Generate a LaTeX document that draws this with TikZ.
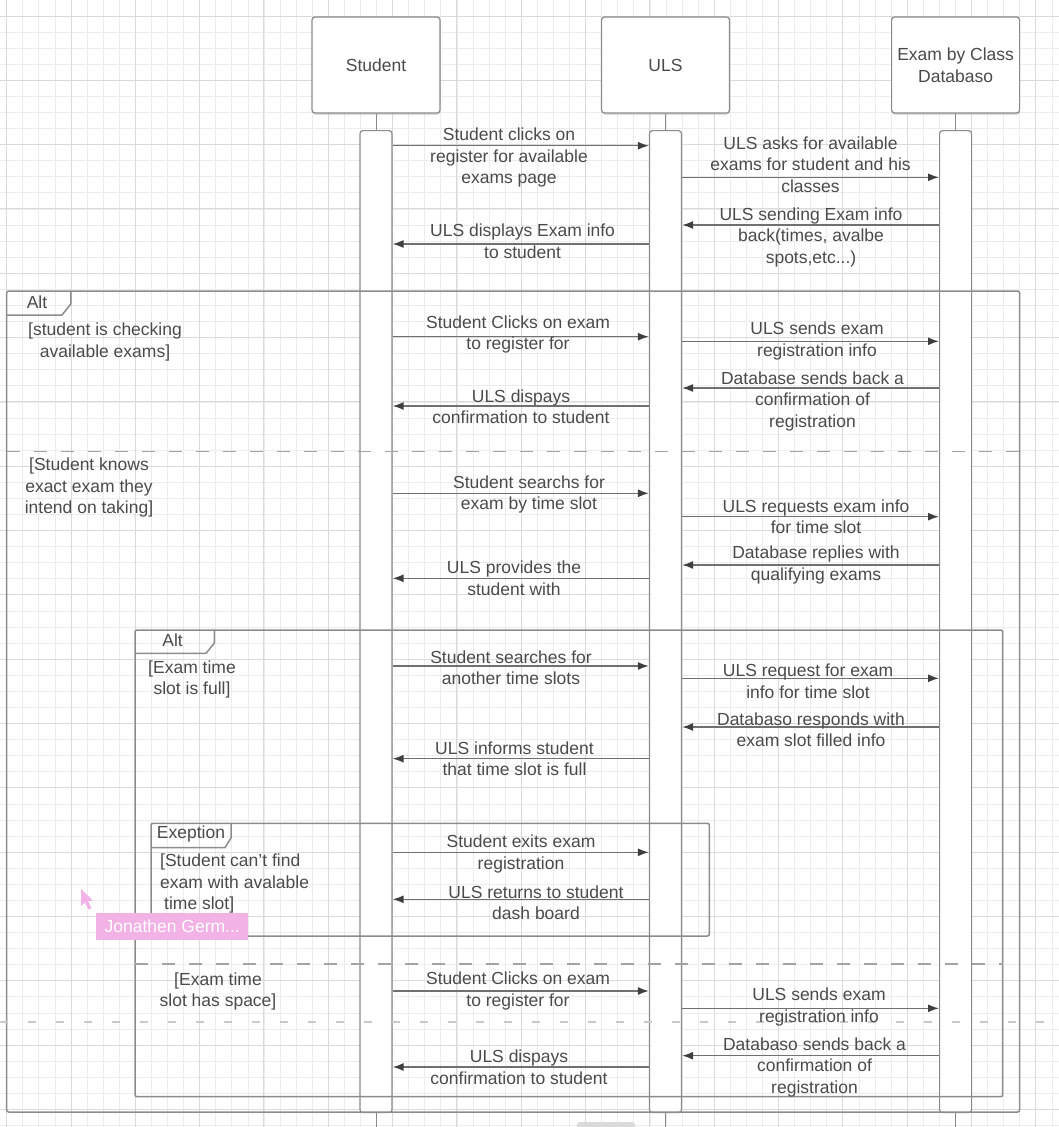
\documentclass[tikz,border=0pt]{standalone}
\usepackage{fontspec}
\setmainfont{Liberation Sans}
\usetikzlibrary{arrows.meta,shadows}
\definecolor{txtgray}{HTML}{4A4A4A}
\definecolor{boxgray}{HTML}{8A8A8A}
\definecolor{arrowgray}{HTML}{707070}
\definecolor{headgray}{HTML}{3E3E3E}
\definecolor{framegray}{HTML}{8C8C8C}
\definecolor{gridminor}{HTML}{ECECEC}
\definecolor{gridmajor}{HTML}{DADADA}
\definecolor{pinktag}{HTML}{F2B2E6}
\definecolor{lightdash}{HTML}{C9C9C9}
\newcommand\lblfont{\fontsize{17.5}{21.5}\selectfont}
\begin{document}
\begin{tikzpicture}[x=1pt,y=-1pt,
  minorline/.style={draw=gridminor,line width=0.8pt},
  majorline/.style={draw=gridmajor,line width=1pt},
  lbl/.style={font=\lblfont,text=txtgray,align=center,inner sep=0pt},
  headbox/.style={draw=boxgray,fill=white,rounded corners=3pt,line width=1.2pt,
    minimum width=128pt,minimum height=96pt,font=\lblfont,text=txtgray,align=center,
    drop shadow={shadow xshift=0.5pt,shadow yshift=-2pt,opacity=0.25}},
  actbar/.style={draw=boxgray,fill=white,rounded corners=3pt,line width=1.2pt,
    minimum width=32pt,minimum height=982pt,anchor=north,inner sep=0pt},
  lifestub/.style={draw=boxgray,line width=0.8pt},
  msg/.style={draw=arrowgray,line width=1.5pt,-{Latex[length=11pt,width=8pt,color=headgray]}},
  frameline/.style={draw=framegray,line width=1.5pt},
  sepline/.style={draw=framegray!80,line width=1.5pt,dash pattern=on 13pt off 14pt},
  lightsep/.style={draw=lightdash,line width=1.6pt,dash pattern=on 8pt off 20pt}
]
\useasboundingbox (0,0) rectangle (1059,1127);
% background grid
\foreach \k in {0,...,65} \draw[minorline] ({6.7+16.08*\k},0) -- ({6.7+16.08*\k},1127);
\foreach \k in {0,...,69} \draw[minorline] (0,{16+16.08*\k}) -- (1059,{16+16.08*\k});
\foreach \k in {0,4,...,64} \draw[majorline] ({6.7+16.08*\k},0) -- ({6.7+16.08*\k},1127);
\foreach \k in {0,4,...,68} \draw[majorline] (0,{16+16.08*\k}) -- (1059,{16+16.08*\k});

% lifeline heads
\node[headbox] (stuHead) at (376,65) {Student};
\node[headbox] (ulsHead) at (665.5,65) {ULS};
\node[headbox] (dbHead) at (955.6,65) {Exam by Class\\Databaso};

% activation bars
\node[actbar] (stuBar) at (376,130) {};
\node[actbar] (ulsBar) at (665.5,130) {};
\node[actbar] (dbBar) at (955.6,130) {};

\coordinate (stuEnd) at (376,1127);
\coordinate (ulsEnd) at (665.5,1127);
\coordinate (dbEnd) at (955.6,1127);
\draw[lifestub] (stuHead.south) -- (stuBar.north);
\draw[lifestub] (ulsHead.south) -- (ulsBar.north);
\draw[lifestub] (dbHead.south) -- (dbBar.north);
\draw[lifestub] (stuBar.south) -- (stuEnd);
\draw[lifestub] (ulsBar.south) -- (ulsEnd);
\draw[lifestub] (dbBar.south) -- (dbEnd);

% outer alt frame
\draw[frameline,rounded corners=2pt] (6.7,291) rectangle (1019.6,1112);
\draw[frameline] (6.7,315) -- (62,315) -- (70.8,304) -- (70.8,291);
\node[lbl] (altOuter) at (37,302) {Alt};
\draw[sepline] (6.7,451.7) -- (1019.6,451.7);
\node[lbl] (guardA) at (105,342) {[student is checking\\available exams]};
\node[lbl] (guardB) at (89,487.8) {[Student knows\\exact exam they\\intend on taking]};

% inner alt frame
\draw[frameline,rounded corners=2pt] (135,630) rectangle (1002.7,1096.7);
\draw[frameline] (135,653.3) -- (206,653.3) -- (214.4,643) -- (214.4,630);
\node[lbl] (altInner) at (172.6,640) {Alt};
\draw[sepline] (135,964) -- (1002.7,964);
\node[lbl] (guardC) at (192,679.5) {[Exam time\\slot is full]};
\node[lbl] (guardE) at (218,991.7) {[Exam time\\slot has space]};

% exception frame
\draw[frameline,rounded corners=2pt] (151,823.3) rectangle (709.4,936);
\draw[frameline] (151,847.7) -- (225,847.7) -- (231,838) -- (231,823.3);
\node[lbl] (excTag) at (191,834) {Exeption};
\node[lbl,align=left,anchor=west] (guardD) at (160,883.7) {[Student can't find\\exam with avalable\\\hspace{4pt}time slot]};

% light dashed guide
\draw[lightsep] (0,1021.7) -- (1059,1021.7);

% messages
\draw[msg] (stuBar.east |- 0,145.7) -- (ulsBar.west |- 0,145.7);
\node[lbl] (m1) at (509,157.6) {Student clicks on\\register for available\\exams page};
\draw[msg] (ulsBar.east |- 0,177.3) -- (dbBar.west |- 0,177.3);
\node[lbl] (m2) at (810.5,164.6) {ULS asks for available\\exams for student and his\\classes};
\draw[msg] (dbBar.west |- 0,225) -- (ulsBar.east |- 0,225);
\node[lbl] (m3) at (811,237) {ULS sending Exam info\\back(times, avalbe\\spots,etc...)};
\draw[msg] (ulsBar.west |- 0,244) -- (stuBar.east |- 0,244);
\node[lbl] (m4) at (522.6,241) {ULS displays Exam info\\to student};

\draw[msg] (stuBar.east |- 0,336.7) -- (ulsBar.west |- 0,336.7);
\node[lbl] (m5) at (518,334.5) {Student Clicks on exam\\to register for};
\draw[msg] (ulsBar.east |- 0,341.3) -- (dbBar.west |- 0,341.3);
\node[lbl] (m6) at (817,341) {ULS sends exam\\registration info};
\draw[msg] (dbBar.west |- 0,388) -- (ulsBar.east |- 0,388);
\node[lbl] (m7) at (812.5,401) {Database sends back a\\confirmation of\\registration};
\draw[msg] (ulsBar.west |- 0,406) -- (stuBar.east |- 0,406);
\node[lbl] (m8) at (521,406.5) {ULS dispays\\confirmation to student};

\draw[msg] (stuBar.east |- 0,493.3) -- (ulsBar.west |- 0,493.3);
\node[lbl] (m9) at (529,494.5) {Student searchs for\\exam by time slot};
\draw[msg] (ulsBar.east |- 0,516.7) -- (dbBar.west |- 0,516.7);
\node[lbl] (m10) at (816,516.5) {ULS requests exam info\\for time slot};
\draw[msg] (dbBar.west |- 0,565) -- (ulsBar.east |- 0,565);
\node[lbl] (m11) at (816,565) {Database replies with\\qualifying exams};
\draw[msg] (ulsBar.west |- 0,578.3) -- (stuBar.east |- 0,578.3);
\node[lbl] (m12) at (514,578) {ULS provides the\\student with};

\draw[msg] (stuBar.east |- 0,666) -- (ulsBar.west |- 0,666);
\node[lbl] (m13) at (511,667.7) {Student searches for\\another time slots};
\draw[msg] (ulsBar.east |- 0,678.3) -- (dbBar.west |- 0,678.3);
\node[lbl] (m14) at (808,681.2) {ULS request for exam\\info for time slot};
\draw[msg] (dbBar.west |- 0,727) -- (ulsBar.east |- 0,727);
\node[lbl] (m15) at (811,729.7) {Databaso responds with\\exam slot filled info};
\draw[msg] (ulsBar.west |- 0,758.7) -- (stuBar.east |- 0,758.7);
\node[lbl] (m16) at (514.5,758.7) {ULS informs student\\that time slot is full};

\draw[msg] (stuBar.east |- 0,852.3) -- (ulsBar.west |- 0,852.3);
\node[lbl] (m17) at (521,854.2) {Student exits exam\\registration};
\draw[msg] (ulsBar.west |- 0,899.3) -- (stuBar.east |- 0,899.3);
\node[lbl] (m18) at (536,902.5) {ULS returns to student\\dash board};

\draw[msg] (stuBar.east |- 0,991) -- (ulsBar.west |- 0,991);
\node[lbl] (m19) at (518,991) {Student Clicks on exam\\to register for};
\draw[msg] (ulsBar.east |- 0,1008.3) -- (dbBar.west |- 0,1008.3);
\node[lbl] (m20) at (819,1007) {ULS sends exam\\registration info};
\draw[msg] (dbBar.west |- 0,1055.7) -- (ulsBar.east |- 0,1055.7);
\node[lbl] (m21) at (814.5,1067) {Databaso sends back a\\confirmation of\\registration};
\draw[msg] (ulsBar.west |- 0,1067) -- (stuBar.east |- 0,1067);
\node[lbl] (m22) at (519,1067) {ULS dispays\\confirmation to student};

% collaborator cursor and tag
\fill[pinktag] (81,889) -- (81,906) -- (85,902.5) -- (88.5,909.5) -- (91.5,908) -- (88,901) -- (93,900.5) -- cycle;
\node[fill=pinktag,text=white,font=\lblfont,minimum width=151.6pt,minimum height=27pt,inner sep=0pt] (tag) at (172.2,926) {Jonathen Germ...};

% bottom scroll handle
\fill[gridmajor,rounded corners=3pt] (577,1122) rectangle (635,1131);
\end{tikzpicture}
\end{document}
